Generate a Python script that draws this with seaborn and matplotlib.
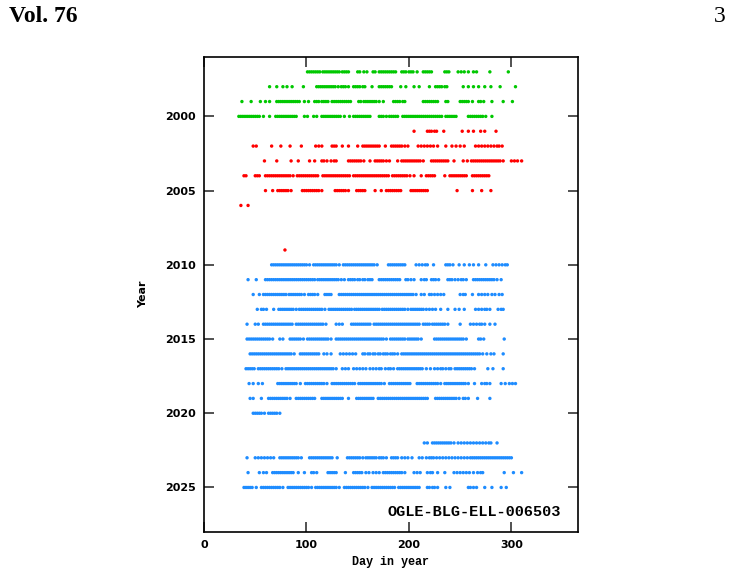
import numpy as np
import pandas as pd
import matplotlib.pyplot as plt
import seaborn as sns

# day-in-year of each observation, one list per season
# OGLE-II (green)
y1997 = [101, 103, 105, 107, 109, 111, 113, 116, 118, 120, 122, 124, 126, 128, 130, 132, 135, 137, 139,
         141, 150, 152, 156, 159, 165, 167, 171, 173, 175, 177, 179, 181, 183, 185, 187, 193, 195, 197,
         200, 202, 204, 208, 214, 216, 218, 220, 222, 235, 237, 239, 248, 251, 254, 258, 263, 266, 279, 297]
y1998 = [64, 71, 77, 81, 86, 97, 110, 112, 114, 116, 118, 120, 122, 124, 126, 128, 131, 134, 136, 138, 141,
         146, 148, 150, 152, 155, 157, 164, 171, 173, 175, 177, 179, 181, 183, 192, 197, 205, 210, 220,
         226, 228, 230, 232, 235, 237, 253, 258, 263, 268, 274, 280, 289, 304]
y1999 = [37, 46, 55, 60, 64, 71, 73, 75, 77, 79, 81, 83, 85, 87, 89, 91, 93, 98, 102, 108, 110, 112, 115,
         117, 119, 121, 125, 127, 129, 131, 133, 135, 137, 139, 141, 143, 151, 153, 156, 158, 160, 162,
         164, 166, 168, 171, 175, 185, 187, 189, 191, 194, 196, 214, 216, 218, 220, 222, 224, 226, 228,
         236, 238, 250, 252, 254, 256, 258, 262, 268, 270, 273, 281, 292, 301]
y2000 = [34, 36, 38, 40, 42, 44, 46, 48, 50, 52, 54, 58, 64, 70, 72, 74, 76, 78, 80, 82, 84, 86, 88, 90,
         98, 101, 107, 110, 115, 117, 119, 121, 123, 125, 127, 129, 131, 133, 137, 142, 146, 148, 150,
         152, 154, 156, 158, 160, 162, 171, 173, 175, 178, 181, 183, 185, 187, 189, 194, 196, 198, 200,
         202, 204, 206, 208, 210, 212, 214, 216, 218, 220, 222, 224, 226, 228, 230, 232, 236, 238, 240,
         242, 244, 246, 258, 260, 262, 264, 266, 268, 270, 272, 275, 281]

# OGLE-III (red)
y2001 = [205, 218, 220, 222, 225, 227, 234, 252, 258, 263, 270, 274, 285]
y2002 = [48, 51, 66, 75, 84, 95, 109, 112, 115, 125, 127, 129, 135, 141, 150, 155, 157, 159, 161, 163,
         165, 167, 169, 171, 177, 183, 185, 187, 189, 191, 193, 196, 199, 209, 212, 215, 218, 221, 224,
         228, 236, 242, 246, 250, 254, 265, 268, 271, 274, 277, 280, 283, 286, 288, 291]
y2003 = [59, 71, 85, 92, 103, 108, 115, 117, 120, 124, 127, 129, 141, 143, 145, 147, 149, 151, 153, 156,
         162, 167, 169, 171, 173, 175, 178, 181, 189, 193, 195, 197, 199, 201, 203, 205, 207, 209, 211,
         214, 222, 224, 226, 228, 230, 232, 234, 236, 238, 244, 253, 257, 261, 263, 265, 267, 269, 271,
         273, 275, 277, 279, 281, 283, 285, 287, 289, 292, 300, 303, 306, 310]
y2004 = [39, 41, 50, 52, 54, 60, 62, 64, 66, 68, 70, 72, 74, 76, 78, 80, 82, 84, 87, 91, 93, 95, 97, 99,
         101, 103, 105, 107, 109, 111, 116, 118, 120, 122, 124, 126, 128, 130, 132, 134, 136, 138, 140,
         142, 146, 148, 150, 152, 154, 156, 158, 160, 162, 164, 166, 168, 170, 172, 174, 176, 178, 180,
         184, 186, 188, 190, 192, 194, 196, 198, 201, 205, 212, 217, 219, 221, 223, 225, 235, 240, 242,
         244, 246, 248, 250, 252, 254, 256, 262, 264, 266, 268, 270, 272, 274, 276, 278]
y2005 = [60, 67, 72, 74, 76, 78, 80, 82, 85, 96, 98, 100, 102, 104, 106, 108, 110, 112, 115, 128, 130,
         132, 134, 136, 138, 141, 149, 151, 153, 155, 157, 167, 173, 178, 180, 182, 184, 186, 188, 190,
         192, 202, 204, 206, 208, 210, 212, 214, 216, 218, 247, 262, 271, 280]
y2006 = [36, 43]
y2009 = [79]

# OGLE-IV (blue)
y2010 = [66, 68, 70, 72, 74, 76, 78, 80, 82, 84, 86, 88, 90, 92, 94, 96, 98, 100, 103, 107, 109, 111,
         113, 115, 117, 119, 121, 123, 125, 127, 129, 132, 136, 138, 140, 142, 144, 146, 148, 150, 152,
         154, 156, 158, 160, 162, 164, 166, 169, 180, 182, 184, 186, 188, 190, 192, 194, 196, 207, 210,
         213, 216, 218, 224, 236, 238, 240, 243, 249, 254, 259, 263, 268, 275, 282, 285, 288, 291, 294, 296]
y2011 = [43, 51, 60, 62, 64, 66, 68, 70, 72, 74, 76, 78, 80, 82, 84, 86, 88, 90, 92, 94, 96, 98, 100,
         102, 104, 106, 108, 111, 113, 115, 117, 119, 121, 123, 125, 127, 129, 131, 134, 137, 141, 143,
         145, 147, 150, 152, 155, 157, 160, 162, 164, 171, 173, 175, 177, 179, 181, 183, 185, 187, 189,
         191, 197, 199, 202, 205, 212, 215, 217, 222, 224, 226, 229, 238, 240, 242, 245, 248, 251, 253,
         256, 263, 265, 267, 269, 271, 273, 275, 277, 279, 281, 283, 286, 290]
y2012 = [48, 54, 58, 60, 62, 64, 66, 68, 70, 72, 74, 76, 78, 80, 83, 85, 87, 89, 91, 93, 95, 98, 102,
         104, 106, 108, 111, 118, 120, 122, 124, 132, 134, 136, 138, 140, 142, 144, 146, 148, 150, 152,
         154, 156, 158, 160, 162, 164, 166, 168, 170, 172, 174, 176, 178, 180, 182, 184, 186, 188, 190,
         192, 194, 196, 198, 200, 202, 204, 207, 212, 215, 220, 222, 225, 228, 231, 234, 250, 253, 255,
         262, 268, 271, 274, 277, 281, 284, 288, 291]
y2013 = [52, 56, 58, 61, 68, 73, 75, 77, 79, 81, 83, 85, 87, 90, 93, 95, 97, 99, 101, 103, 105, 107,
         109, 111, 113, 115, 118, 122, 124, 126, 128, 130, 132, 134, 136, 138, 140, 142, 144, 147, 149,
         151, 153, 155, 157, 159, 161, 163, 165, 167, 169, 171, 174, 176, 178, 180, 182, 184, 186, 188,
         190, 192, 194, 196, 199, 202, 204, 206, 208, 210, 212, 214, 217, 220, 223, 226, 231, 238, 245,
         249, 254, 265, 268, 271, 274, 276, 279, 287, 290, 292]
y2014 = [42, 50, 53, 58, 60, 62, 64, 66, 68, 70, 72, 74, 76, 78, 80, 82, 84, 86, 90, 92, 94, 96, 98,
         100, 102, 104, 106, 108, 110, 112, 114, 116, 119, 129, 132, 135, 144, 146, 148, 150, 152, 154,
         156, 158, 160, 162, 166, 168, 170, 172, 174, 176, 178, 180, 182, 184, 186, 188, 190, 192, 194,
         196, 198, 200, 202, 204, 206, 208, 210, 214, 216, 218, 220, 223, 225, 227, 229, 231, 233, 235,
         238, 250, 260, 263, 266, 269, 271, 274, 279, 284]
y2015 = [42, 44, 46, 48, 50, 52, 54, 56, 58, 60, 62, 64, 67, 74, 77, 84, 86, 88, 90, 92, 94, 97, 101,
         103, 105, 107, 109, 111, 113, 115, 117, 119, 121, 124, 129, 131, 133, 135, 137, 139, 141, 143,
         145, 147, 149, 151, 153, 155, 157, 159, 161, 163, 165, 167, 169, 171, 173, 175, 178, 182, 184,
         186, 188, 190, 192, 194, 196, 199, 201, 203, 205, 207, 209, 212, 225, 227, 229, 231, 233, 235,
         237, 239, 241, 243, 245, 247, 249, 251, 253, 256, 268, 270, 273, 293]
y2016 = [45, 47, 49, 51, 53, 55, 57, 59, 61, 63, 65, 67, 69, 71, 73, 75, 77, 79, 81, 83, 85, 88, 94, 96,
         98, 100, 102, 104, 106, 108, 110, 112, 117, 120, 124, 133, 136, 139, 142, 145, 148, 155, 157,
         160, 162, 165, 167, 170, 172, 175, 177, 179, 182, 184, 186, 189, 193, 195, 197, 199, 201, 203,
         205, 207, 209, 211, 213, 215, 217, 219, 221, 223, 225, 227, 229, 231, 233, 235, 237, 239, 241,
         243, 245, 247, 249, 251, 253, 255, 257, 259, 261, 263, 265, 267, 269, 272, 276, 280, 283, 292]
y2017 = [41, 43, 45, 47, 49, 53, 55, 57, 59, 61, 63, 65, 67, 69, 71, 73, 76, 80, 82, 84, 86, 88, 90, 92,
         94, 96, 98, 100, 102, 104, 106, 108, 110, 112, 114, 116, 118, 120, 122, 124, 126, 129, 135, 138,
         141, 146, 149, 152, 155, 158, 162, 165, 168, 171, 173, 177, 180, 182, 185, 189, 191, 193, 195,
         197, 199, 201, 203, 205, 207, 209, 211, 213, 217, 221, 225, 228, 231, 233, 236, 239, 241, 245,
         247, 249, 251, 253, 255, 257, 259, 261, 264, 277, 282, 292]
y2018 = [44, 48, 53, 57, 72, 74, 76, 78, 80, 82, 84, 86, 88, 90, 94, 99, 101, 103, 105, 107, 109, 111,
         113, 115, 117, 120, 125, 127, 129, 131, 133, 135, 137, 139, 141, 143, 145, 147, 151, 153, 155,
         157, 159, 161, 163, 165, 167, 169, 171, 173, 176, 181, 183, 185, 187, 189, 191, 193, 195, 197,
         199, 201, 208, 210, 212, 214, 216, 218, 220, 222, 224, 226, 228, 231, 235, 237, 239, 241, 243,
         245, 247, 249, 251, 253, 255, 258, 264, 271, 274, 276, 279, 290, 294, 298, 301, 304]
y2019 = [45, 48, 56, 63, 65, 67, 69, 71, 73, 75, 77, 79, 81, 84, 90, 92, 94, 96, 98, 100, 102, 104, 106,
         108, 115, 117, 119, 121, 123, 125, 127, 129, 131, 133, 135, 141, 149, 151, 153, 155, 157, 159,
         161, 163, 165, 170, 172, 174, 176, 178, 180, 182, 184, 186, 188, 190, 192, 194, 196, 198, 200,
         202, 204, 206, 208, 210, 212, 214, 216, 218, 226, 228, 230, 232, 234, 236, 238, 240, 242, 244,
         246, 249, 253, 255, 258, 267, 279]
y2020 = [48, 50, 52, 54, 56, 59, 63, 65, 67, 69, 71, 74]
y2022 = [215, 218, 223, 225, 227, 229, 231, 233, 235, 237, 239, 241, 244, 248, 251, 254, 257, 260, 263,
         266, 269, 272, 275, 278, 280, 286]
y2023 = [42, 50, 53, 56, 59, 62, 65, 68, 74, 76, 78, 80, 82, 84, 86, 88, 90, 92, 95, 103, 105, 107, 109,
         111, 113, 115, 117, 119, 121, 123, 125, 130, 140, 142, 144, 146, 148, 150, 152, 155, 158, 160,
         162, 164, 166, 168, 171, 173, 175, 178, 183, 185, 187, 189, 193, 196, 199, 203, 210, 213, 217,
         220, 222, 224, 227, 230, 233, 236, 239, 242, 245, 248, 251, 254, 257, 260, 262, 264, 266, 268,
         270, 272, 274, 276, 278, 280, 282, 284, 286, 288, 290, 292, 294, 296, 298, 300]
y2024 = [43, 54, 58, 61, 67, 69, 71, 73, 75, 77, 79, 81, 83, 85, 87, 92, 98, 105, 107, 110, 121, 123,
         125, 127, 129, 138, 146, 148, 150, 152, 154, 158, 161, 165, 168, 171, 175, 177, 179, 181, 183,
         185, 187, 189, 191, 193, 196, 205, 208, 211, 218, 221, 223, 228, 235, 244, 247, 250, 253, 256,
         259, 263, 267, 270, 272, 293, 302, 310]
y2025 = [39, 41, 43, 45, 47, 51, 56, 58, 60, 62, 64, 66, 68, 70, 72, 74, 77, 82, 84, 86, 88, 90, 92, 94,
         96, 98, 100, 102, 105, 109, 111, 113, 115, 117, 119, 121, 123, 125, 127, 129, 132, 137, 139,
         141, 143, 145, 147, 149, 151, 153, 155, 157, 160, 164, 166, 168, 170, 172, 174, 176, 178, 180,
         182, 184, 186, 190, 192, 194, 196, 198, 200, 202, 204, 206, 208, 210, 218, 220, 223, 225, 228,
         236, 240, 258, 260, 263, 266, 274, 281, 290, 295]

seasons = [
    (1997, y1997, "OGLE-II"), (1998, y1998, "OGLE-II"), (1999, y1999, "OGLE-II"), (2000, y2000, "OGLE-II"),
    (2001, y2001, "OGLE-III"), (2002, y2002, "OGLE-III"), (2003, y2003, "OGLE-III"), (2004, y2004, "OGLE-III"),
    (2005, y2005, "OGLE-III"), (2006, y2006, "OGLE-III"), (2009, y2009, "OGLE-III"),
    (2010, y2010, "OGLE-IV"), (2011, y2011, "OGLE-IV"), (2012, y2012, "OGLE-IV"), (2013, y2013, "OGLE-IV"),
    (2014, y2014, "OGLE-IV"), (2015, y2015, "OGLE-IV"), (2016, y2016, "OGLE-IV"), (2017, y2017, "OGLE-IV"),
    (2018, y2018, "OGLE-IV"), (2019, y2019, "OGLE-IV"), (2020, y2020, "OGLE-IV"), (2022, y2022, "OGLE-IV"),
    (2023, y2023, "OGLE-IV"), (2024, y2024, "OGLE-IV"), (2025, y2025, "OGLE-IV"),
]
colors = {"OGLE-II": "#00c800", "OGLE-III": "#ff0000", "OGLE-IV": "#1e8cff"}

rows = []
for year, days, survey in seasons:
    for d in days:
        rows.append((d, year, survey))
df = pd.DataFrame(rows, columns=["day", "year", "survey"])

sns.set_theme(style="ticks")
plt.rcParams.update({"text.color": "black", "axes.labelcolor": "black",
                     "xtick.color": "black", "ytick.color": "black"})

fig = plt.figure(figsize=(7.32, 5.76), dpi=100)
ax = fig.add_axes([0.2787, 0.0764, 0.5109, 0.8246])

sns.scatterplot(data=df, x="day", y="year", hue="survey", palette=colors,
                s=6, linewidth=0, legend=False, ax=ax)

ax.set_xlim(0, 365)
ax.set_ylim(2028, 1996)
ax.set_xticks([0, 100, 200, 300])
ax.set_yticks([2000, 2005, 2010, 2015, 2020, 2025])
ax.tick_params(direction="in", length=7, width=1.2, top=True, right=True,
               labelsize=8, pad=6, color="#333333", labelcolor="black")
for lab in ax.get_xticklabels() + ax.get_yticklabels():
    lab.set_fontweight("bold")
    lab.set_family("DejaVu Sans")
for sp in ax.spines.values():
    sp.set_linewidth(1.2)
    sp.set_color("black")

ax.set_xlabel("Day in year", family="Liberation Mono", fontweight="bold", fontsize=8.5,
              labelpad=4, color="black")
ax.set_ylabel("Year", family="DejaVu Sans", fontweight="bold", fontsize=8, labelpad=12, color="black")
ax.text(0.955, 0.033, "OGLE-BLG-ELL-006503", transform=ax.transAxes, ha="right", va="baseline",
        family="Liberation Mono", fontweight="bold", fontsize=11, color="black")

fig.text(0.012, 0.962, "Vol. 76", family="Liberation Serif", fontweight="bold", fontsize=17,
         ha="left", va="baseline", color="black")
fig.text(0.991, 0.962, "3", family="Liberation Serif", fontsize=17, ha="right", va="baseline",
         color="black")

fig.savefig("out.png", dpi=100)
